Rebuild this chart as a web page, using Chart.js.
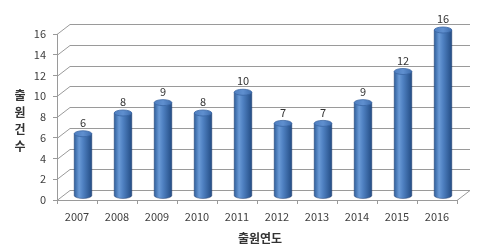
<!DOCTYPE html>
<html><head><meta charset="utf-8">
<script src="https://cdn.jsdelivr.net/npm/chart.js@4.4.0/dist/chart.umd.min.js"></script>
<style>html,body{margin:0;padding:0;background:#fff;}#wrap{width:490px;height:251px;}</style>
</head><body><div id="wrap"><canvas id="c" width="490" height="251"></canvas></div>
<script>
const categories = ['2007','2008','2009','2010','2011','2012','2013','2014','2015','2016'];
const values = [6, 8, 9, 8, 10, 7, 7, 9, 12, 16];
const yTicks = [0, 2, 4, 6, 8, 10, 12, 14, 16];
const yTitle = '출원건수';
const xTitle = '출원연도';

const FONT = "'Noto Sans CJK KR', 'Noto Sans', sans-serif";
const DEPTH_X = 13, DEPTH_Y = 10;   // back wall offset
const BAR_DX = 6, BAR_DY = 4;        // bar offset into depth

const wallPlugin = {
  id: 'wall',
  beforeDatasetsDraw(chart) {
    const ctx = chart.ctx, y = chart.scales.y, a = chart.chartArea;
    ctx.save();
    ctx.strokeStyle = '#9a9a9a';
    ctx.lineWidth = 1;
    yTicks.forEach(v => {
      const py = Math.round(y.getPixelForValue(v)) + 0.5;
      ctx.beginPath();
      ctx.moveTo(a.left, py);
      ctx.lineTo(a.left + DEPTH_X, py - DEPTH_Y);
      ctx.lineTo(a.right + DEPTH_X, py - DEPTH_Y);
      ctx.stroke();
    });
    const pb = Math.round(y.getPixelForValue(0)) + 0.5;
    ctx.beginPath();
    ctx.moveTo(a.right, pb);
    ctx.lineTo(a.right + DEPTH_X, pb - DEPTH_Y);
    ctx.stroke();
    ctx.restore();
  },
  afterDatasetsDraw(chart) {
    const ctx = chart.ctx;
    const meta = chart.getDatasetMeta(0);
    ctx.save();
    meta.data.forEach((bar, i) => {
      const cx = bar.x + BAR_DX;
      const top = bar.y - BAR_DY;
      const bottom = bar.base - BAR_DY;
      const w = bar.width;
      const rx = w / 2, ry = 3;
      const left = cx - rx, right = cx + rx;
      const g = ctx.createLinearGradient(left, 0, right, 0);
      g.addColorStop(0, '#2f5f9c');
      g.addColorStop(0.28, '#6a9ad6');
      g.addColorStop(0.5, '#4f81c2');
      g.addColorStop(1, '#244d85');
      ctx.fillStyle = g;
      ctx.beginPath();
      ctx.moveTo(left, top);
      ctx.lineTo(left, bottom);
      ctx.ellipse(cx, bottom, rx, ry, 0, Math.PI, 0, true);
      ctx.lineTo(right, top);
      ctx.closePath();
      ctx.fill();
      ctx.strokeStyle = 'rgba(30,60,110,0.6)';
      ctx.lineWidth = 0.8;
      ctx.stroke();
      // top cap
      const gt = ctx.createLinearGradient(left, 0, right, 0);
      gt.addColorStop(0, '#4f7fc0');
      gt.addColorStop(0.5, '#5f8fcf');
      gt.addColorStop(1, '#3f6eae');
      ctx.fillStyle = gt;
      ctx.beginPath();
      ctx.ellipse(cx, top, rx, ry, 0, 0, Math.PI * 2);
      ctx.fill();
      ctx.strokeStyle = '#3a66a3';
      ctx.stroke();
      // value label
      ctx.fillStyle = '#333';
      ctx.font = '11px ' + FONT;
      ctx.textAlign = 'center';
      ctx.textBaseline = 'middle';
      ctx.fillText(String(values[i]), cx, top - 11);
    });
    // axis titles
    ctx.fillStyle = '#333';
    ctx.font = 'bold 12px ' + FONT;
    ctx.textAlign = 'center';
    ctx.textBaseline = 'middle';
    const chars = Array.from(yTitle);
    chars.forEach((ch, k) => ctx.fillText(ch, 20, 95 + k * 17));
    const a = chart.chartArea;
    ctx.fillText(xTitle, (a.left + a.right) / 2 + 3, 238);
    ctx.restore();
  }
};

new Chart(document.getElementById('c'), {
  type: 'bar',
  data: {
    labels: categories,
    datasets: [{
      data: values,
      backgroundColor: 'rgba(0,0,0,0)',
      borderWidth: 0,
      barPercentage: 0.44,
      categoryPercentage: 1.0
    }]
  },
  options: {
    responsive: false,
    animation: false,
    devicePixelRatio: 1,
    layout: { padding: { left: 0, right: 33, top: 34, bottom: 0 } },
    plugins: { legend: { display: false }, tooltip: { enabled: false } },
    scales: {
      x: {
        afterFit(s) { s.height = 51; },
        grid: { display: true, drawOnChartArea: false, drawTicks: true, tickLength: 4, color: '#9a9a9a', offset: true },
        border: { display: true, color: '#9a9a9a' },
        ticks: { color: '#404040', font: { size: 11, family: FONT }, padding: 6, maxRotation: 0 }
      },
      y: {
        min: 0, max: 16,
        afterFit(s) { s.width = 57; },
        afterBuildTicks(s) { s.ticks = yTicks.map(v => ({ value: v })); },
        grid: { display: true, drawOnChartArea: false, drawTicks: true, tickLength: 4, color: '#9a9a9a' },
        border: { display: true, color: '#9a9a9a' },
        ticks: { color: '#404040', font: { size: 11, family: FONT }, padding: 7 }
      }
    }
  },
  plugins: [wallPlugin]
});
</script>
</body></html>
